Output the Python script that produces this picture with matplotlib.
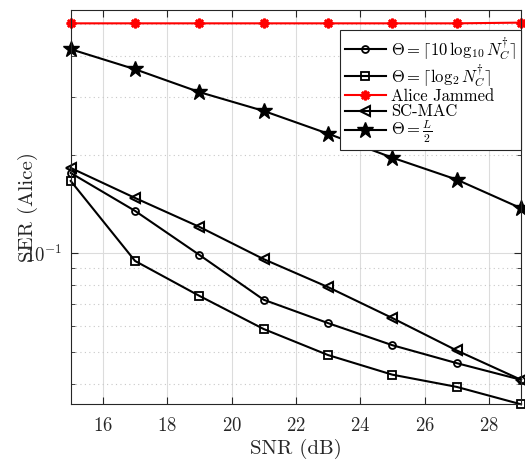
import matplotlib
matplotlib.use("Agg")
import matplotlib.pyplot as plt
from matplotlib.ticker import LogLocator, NullFormatter, FixedLocator

plt.rcParams['font.family'] = 'cmr10'
plt.rcParams['mathtext.fontset'] = 'cm'
plt.rcParams['axes.formatter.use_mathtext'] = True
plt.rcParams['axes.unicode_minus'] = False

snr = [15, 17, 19, 21, 23, 25, 27, 29]
ser_10log = [0.1757, 0.1346, 0.0988, 0.0721, 0.0612, 0.0524, 0.0462, 0.0411]
ser_log2 = [0.1661, 0.0947, 0.0741, 0.0587, 0.0489, 0.0426, 0.0391, 0.0346]
ser_jammed = [0.5025, 0.5025, 0.5025, 0.5025, 0.5025, 0.5025, 0.5025, 0.505]
ser_scmac = [0.182, 0.1474, 0.1203, 0.0959, 0.0788, 0.0634, 0.0505, 0.0411]
ser_half = [0.419, 0.364, 0.310, 0.2716, 0.2315, 0.1956, 0.1677, 0.1371]

labels = [r'$\Theta = \lceil 10\,\log_{10} N_C^{\dagger}\rceil$',
          r'$\Theta = \lceil \log_2 N_C^{\dagger}\rceil$',
          'Alice Jammed',
          'SC-MAC',
          r'$\Theta = \frac{L}{2}$']

fig = plt.figure(figsize=(5.25, 4.62), dpi=100)
ax = fig.add_axes([0.1347, 0.1249, 0.9924 - 0.1347, 0.979 - 0.1249])

axc = '#262626'
lw = 1.5
ax.plot(snr, ser_10log, '-o', color='k', lw=lw, ms=5, mfc='none', mew=1.3, clip_on=False, label=labels[0])
ax.plot(snr, ser_log2, '-s', color='k', lw=lw, ms=6, mfc='none', mew=1.3, clip_on=False, label=labels[1])
ax.plot(snr, ser_jammed, '-', color='red', marker=(8, 2, 0), lw=lw, ms=7, mew=1.8, clip_on=False, label=labels[2])
ax.plot(snr, ser_scmac, '-<', color='k', lw=lw, ms=7, mfc='none', mew=1.5, clip_on=False, label=labels[3])
ax.plot(snr, ser_half, '-*', color='k', lw=lw, ms=12, mfc='k', mew=1.0, clip_on=False, label=labels[4])

ax.set_yscale('log')
ax.set_xlim(15, 29)
ax.set_ylim(0.0346, 0.553)
ax.set_xticks([16, 18, 20, 22, 24, 26, 28])
ax.yaxis.set_major_locator(FixedLocator([0.1]))
ax.yaxis.set_minor_locator(LogLocator(base=10, subs=range(2, 10), numticks=20))
ax.yaxis.set_minor_formatter(NullFormatter())

ax.grid(True, which='major', axis='both', color='#dcdcdc', lw=0.8, ls='-')
ax.grid(True, which='minor', axis='y', color='#c8c8c8', lw=0.8, ls=(0, (1, 3)))
ax.set_axisbelow(True)

ax.tick_params(which='both', direction='in', top=True, right=True, colors=axc, labelsize=13.5)
ax.tick_params(which='major', length=5)
ax.tick_params(which='minor', length=3)
ax.tick_params(axis='x', which='major', pad=9)
ax.tick_params(axis='y', which='major', pad=6)
for s in ax.spines.values():
    s.set_color(axc)
    s.set_linewidth(0.8)

ax.set_xlabel('SNR (dB)', fontsize=15, color=axc, labelpad=3)
ax.set_ylabel('SER (Alice)', fontsize=15, color=axc, labelpad=-9)

leg = ax.legend(loc='upper right', bbox_to_anchor=(1.0, 0.9486), borderaxespad=0,
                fontsize=12, handlelength=2.5, fancybox=False, framealpha=1,
                edgecolor=axc, labelspacing=0.0, borderpad=0.3, handletextpad=0.3)
leg.get_frame().set_linewidth(0.8)

fig.savefig('out.png', dpi=100)
